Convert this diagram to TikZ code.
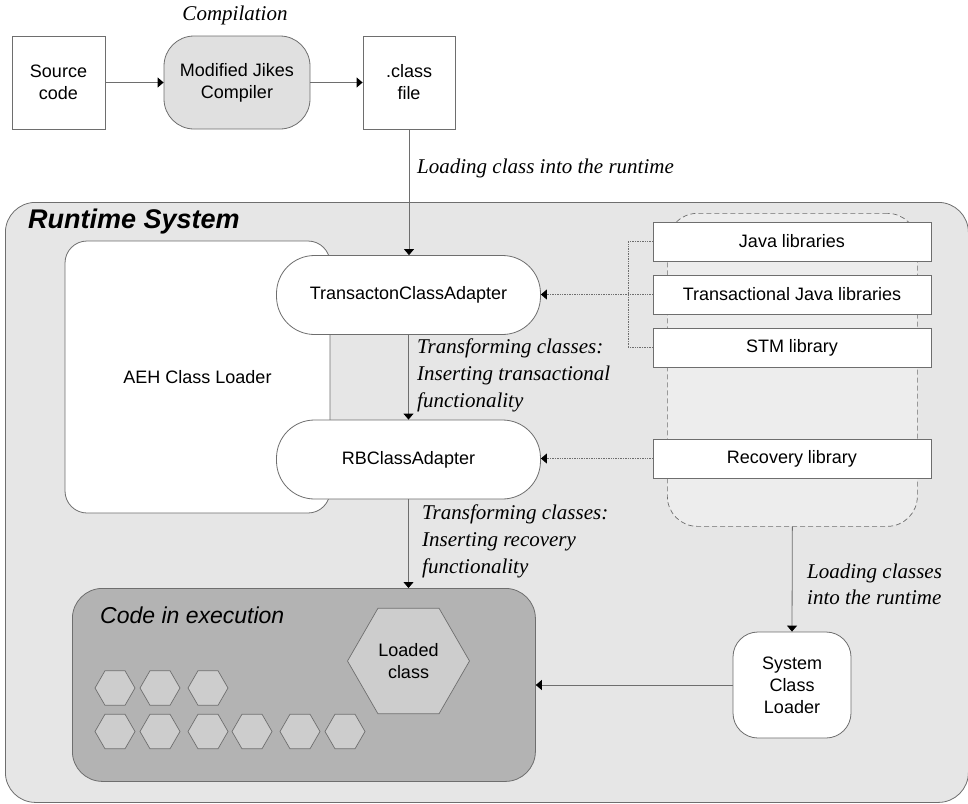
\documentclass[tikz,border=0pt]{standalone}
\usepackage{fontspec}
\setmainfont{Liberation Sans}
\newfontfamily\labelfont{Liberation Serif}
\usetikzlibrary{arrows.meta,shapes.geometric}

\definecolor{edgegray}{HTML}{6E6E6E}
\definecolor{runtimebg}{HTML}{E6E6E6}
\definecolor{libbg}{HTML}{EDEDED}
\definecolor{compilerbg}{HTML}{E0E0E0}
\definecolor{execbg}{HTML}{B3B3B3}
\definecolor{hexbg}{HTML}{CDCDCD}

\begin{document}
\begin{tikzpicture}[x=1pt,y=-1pt,
  every node/.style={font=\fontsize{18}{22}\selectfont, align=center, inner sep=0pt},
  box/.style={rectangle, draw=edgegray, fill=white, line width=0.8pt},
  rbox/.style={box, rounded corners=#1},
  tip/.style={-{Triangle[length=6pt,width=10pt,color=black]}},
  flow/.style={draw=edgegray, line width=0.8pt, tip},
  libflow/.style={draw=edgegray, line width=0.7pt, densely dotted, tip},
  bracketline/.style={draw=edgegray, line width=0.7pt, densely dotted},
  note/.style={font=\labelfont\itshape\fontsize{21}{27}\selectfont, align=left, anchor=west},
  hexa/.style={regular polygon, regular polygon sides=6, draw=edgegray, fill=hexbg,
               line width=0.7pt, minimum size=40pt}
]
\useasboundingbox (0,0) rectangle (968,803);

% ---------- compilation stage ----------
\node[font=\labelfont\itshape\fontsize{21}{25}\selectfont] (comp) at (235,15) {Compilation};
\node[box, minimum width=93pt, minimum height=93pt] (src) at (58.5,82.5) {Source\\code};
\node[rbox=30pt, fill=compilerbg, minimum width=146pt, minimum height=93pt] (jikes) at (237,82.5) {Modified Jikes\\Compiler};
\node[box, minimum width=92pt, minimum height=93pt] (cls) at (409,82.5) {.class\\file};

% ---------- runtime system ----------
\node[rbox=30pt, fill=runtimebg, minimum width=963pt, minimum height=600pt, anchor=north west] (runtime) at (5,202) {};
\node[anchor=west, font=\bfseries\itshape\fontsize{27}{30}\selectfont] (rtitle) at (28,222) {Runtime System};

% library container
\node[draw=edgegray, line width=0.7pt, dash pattern=on 5pt off 3pt, fill=libbg, rounded corners=30pt,
      minimum width=250pt, minimum height=313pt, anchor=north west] (libs) at (667,213) {};
\node[box, minimum width=278pt, minimum height=39pt] (jlib) at (792,241.5) {Java libraries};
\node[box, minimum width=278pt, minimum height=39pt] (tjlib) at (792,294.5) {Transactional Java libraries};
\node[box, minimum width=278pt, minimum height=39pt] (stm) at (792,347.5) {STM library};
\node[box, minimum width=278pt, minimum height=39pt] (rlib) at (792,458.5) {Recovery library};

% AEH class loader and its adapters
\node[rbox=22pt, minimum width=265pt, minimum height=272pt] (aeh) at (197.5,377) {AEH Class Loader};
\node[rbox=38pt, minimum width=264pt, minimum height=79pt] (tca) at (408.5,295) {TransactonClassAdapter};
\node[rbox=38pt, minimum width=264pt, minimum height=79pt] (rb) at (408.5,459.5) {RBClassAdapter};

% code in execution
\node[rbox=30pt, fill=execbg, minimum width=463pt, minimum height=193pt, anchor=north west] (exec) at (72,588) {};
\node[anchor=west, font=\itshape\fontsize{23}{26}\selectfont] (execlabel) at (100,615) {Code in execution};
\node[hexa, minimum size=122pt] (loaded) at (408.5,661) {Loaded\\class};
\foreach \n/\x/\y in {h1/115/688, h2/160/688, h3/208/688,
                      h4/115/731.5, h5/160/731.5, h6/208/731.5, h7/252/731.5, h8/300/731.5, h9/345/731.5}
  \node[hexa] (\n) at (\x,\y) {};

% system class loader
\node[rbox=25pt, minimum width=118pt, minimum height=106pt] (scl) at (792,685) {System\\Class\\Loader};

% ---------- connectors ----------
\draw[flow] (src) -- (jikes);
\draw[flow] (jikes) -- (cls);
\draw[flow] (cls.south) -- (cls.south |- tca.north);
\draw[flow] (tca) -- (rb);
\draw[flow] (rb.south) -- (rb.south |- exec.north);
\draw[flow] (libs.south) -- (scl.north);
\draw[flow] (scl.west) -- (scl.west -| exec.east);

\coordinate (bracket) at (628,0);
\draw[bracketline] (jlib.west) -- (jlib.west -| bracket) -- (stm.west -| bracket) -- (stm.west);
\draw[libflow] (tjlib.west) -- (tjlib.west -| tca.east);
\draw[libflow] (rlib.west) -- (rlib.west -| rb.east);

% ---------- connector labels ----------
\node[note] (loadlbl) at (417,168) {Loading class into the runtime};
\node[note] (translbl) at (417,375) {Transforming classes:\\Inserting transactional\\functionality};
\node[note] (reclbl) at (422,541) {Transforming classes:\\Inserting recovery\\functionality};
\node[note, font=\labelfont\itshape\fontsize{21}{26}\selectfont] (syslbl) at (807,584) {Loading classes\\into the runtime};
\end{tikzpicture}
\end{document}
